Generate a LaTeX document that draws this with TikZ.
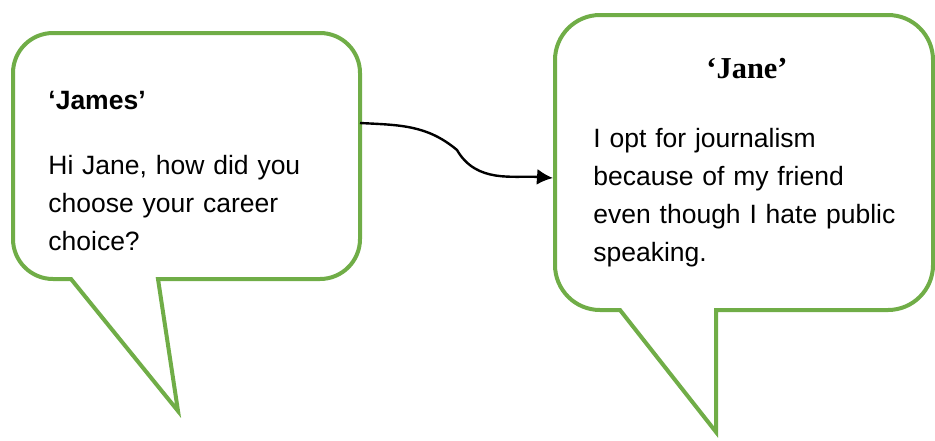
\documentclass[tikz,border=0pt]{standalone}
\usepackage{fontspec}
\setmainfont{Liberation Sans}
\newfontfamily\serifname{Liberation Serif}
\usetikzlibrary{arrows.meta}
\definecolor{bubblegreen}{RGB}{112,173,71}
\tikzset{
	bubble/.style={draw=bubblegreen, line width=2pt, fill=white},
	speech/.style={font=\fontsize{13.25}{19}\selectfont, anchor=base west, align=left, text width=170pt, inner sep=0pt},
	talk/.style={line width=1.2pt, -{Latex[length=8pt,width=8pt]}}
}
\begin{document}
\begin{tikzpicture}[x=0.5pt, y=-0.5pt]
	\useasboundingbox (0,0) rectangle (935,440);
	\draw [bubble] (158,279) -- (320,279) arc[start angle=90, end angle=0, radius=40] -- (360,73) arc[start angle=0, end angle=-90, radius=40] -- (53,33) arc[start angle=-90, end angle=-180, radius=40] -- (13,239) arc[start angle=180, end angle=90, radius=40] -- (71,279) -- (178,411) -- cycle;
	\draw [bubble] (716,310) -- (888,310) arc[start angle=90, end angle=0, radius=45] -- (933,60) arc[start angle=0, end angle=-90, radius=45] -- (600,15) arc[start angle=-90, end angle=-180, radius=45] -- (555,265) arc[start angle=180, end angle=90, radius=45] -- (620,310) -- (716,432) -- cycle;
	\node (jamesname) [anchor=base west, inner sep=0pt, font=\fontsize{13.25}{19}\selectfont\bfseries] at (48,109) {‘James’};
	\node (jamestext) [speech] at (48,174) {Hi Jane, how did you\\ choose your career\\ choice?};
	\node (janename) [anchor=base, inner sep=0pt, font=\serifname\fontsize{15.2}{18}\selectfont\bfseries] at (747,78) {‘Jane’};
	\node (janetext) [speech] at (593,147) {I opt for journalism\\ because of my friend\\ even though I hate public\\ speaking.};
	\coordinate (jamesout) at (360,123);
	\coordinate (bend) at (457,150);
	\coordinate (janein) at (553,178);
	\draw [talk] (jamesout) to[out=-3, in=140] (bend) to[out=-60, in=176] (janein);
\end{tikzpicture}
\end{document}
